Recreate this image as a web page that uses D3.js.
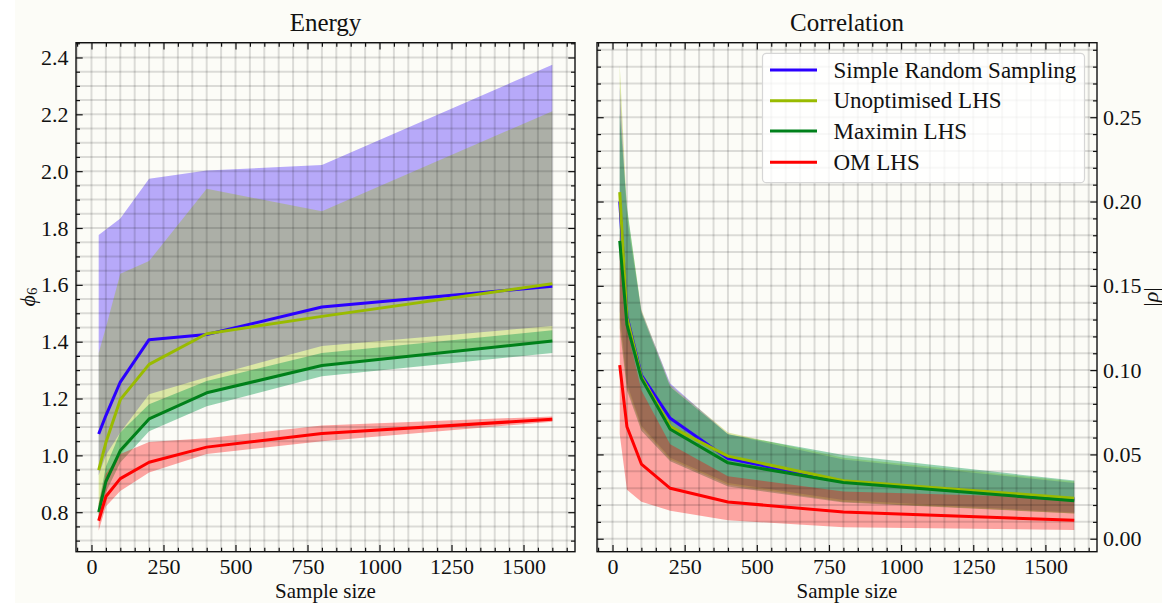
<!DOCTYPE html>
<html>
<head>
<meta charset="utf-8">
<script src="https://cdn.jsdelivr.net/npm/d3@7"></script>
<style>
  html, body { margin: 0; padding: 0; background: #fcfcf7; }
  svg { display: block; }
  text { font-family: "Liberation Serif", "DejaVu Serif", serif; fill: #111; }
</style>
</head>
<body>
<script>
// Sample sizes shared by every method
const sampleSizes = [25, 50, 100, 200, 400, 800, 1600];

// Energy (phi_6): mean line and band edges per method
const energySRS      = [1.075, 1.14, 1.258, 1.407, 1.425, 1.522, 1.595];
const energySRSLo    = [0.93, 1.0, 1.08, 1.215, 1.275, 1.385, 1.455];
const energySRSHi    = [1.775, 1.795, 1.833, 1.973, 2.002, 2.022, 2.374];
const energyULHS     = [0.948, 1.045, 1.196, 1.32, 1.428, 1.489, 1.604];
const energyULHSLo   = [0.80, 0.90, 1.0, 1.13, 1.22, 1.32, 1.40];
const energyULHSHi   = [1.36, 1.45, 1.639, 1.684, 1.938, 1.859, 2.211];
const energyMLHS     = [0.80, 0.908, 1.017, 1.128, 1.22, 1.316, 1.402];
const energyMLHSLo   = [0.77, 0.87, 0.975, 1.085, 1.173, 1.278, 1.36];
const energyMLHSHi   = [0.83, 0.96, 1.08, 1.18, 1.262, 1.36, 1.44];
const energyOM       = [0.77, 0.855, 0.918, 0.976, 1.029, 1.077, 1.127];
const energyOMLo     = [0.735, 0.82, 0.875, 0.94, 1.005, 1.05, 1.118];
const energyOMHi     = [0.83, 0.935, 1.005, 1.047, 1.06, 1.105, 1.137];

// Correlation |rho|: mean line and band edges per method
const corrSRS        = [0.200, 0.132, 0.097, 0.0714, 0.0475, 0.034, 0.0235];
const corrSRSLo      = [0.135, 0.092, 0.067, 0.048, 0.033, 0.023, 0.0155];
const corrSRSHi      = [0.268, 0.190, 0.135, 0.092, 0.062, 0.047, 0.033];
const corrULHS       = [0.2056, 0.131, 0.096, 0.0665, 0.049, 0.0344, 0.024];
const corrULHSLo     = [0.130, 0.090, 0.066, 0.047, 0.032, 0.022, 0.015];
const corrULHSHi     = [0.281, 0.195, 0.136, 0.091, 0.063, 0.048, 0.034];
const corrMLHS       = [0.1766, 0.127, 0.0951, 0.0649, 0.045, 0.0334, 0.0225];
const corrMLHSLo     = [0.125, 0.088, 0.064, 0.046, 0.031, 0.0215, 0.015];
const corrMLHSHi     = [0.252, 0.197, 0.134, 0.090, 0.062, 0.0496, 0.0345];
const corrOM         = [0.103, 0.0664, 0.0443, 0.0299, 0.0218, 0.0158, 0.0109];
const corrOMLo       = [0.062, 0.029, 0.022, 0.0166, 0.011, 0.0068, 0.0052];
const corrOMHi       = [0.180, 0.125, 0.088, 0.056, 0.037, 0.028, 0.024];

// Legend labels and tick labels
const methodNames  = ["Simple Random Sampling", "Unoptimised LHS", "Maximin LHS", "OM LHS"];
const sizeTicks    = [0, 250, 500, 750, 1000, 1250, 1500];
const energyTicks  = [0.8, 1.0, 1.2, 1.4, 1.6, 1.8, 2.0, 2.2, 2.4];
const corrTicks    = [0.00, 0.05, 0.10, 0.15, 0.20, 0.25];

// Styling per method
const lineColors = ["#2b00ff", "#99bb00", "#00801a", "#ff0000"];
const bandColors = ["#2b00ff", "#99bb00", "#0c9a50", "#ff0000"];
const bandAlpha  = [0.33, 0.33, 0.42, 0.35];

const W = 1162, H = 603;
const svg = d3.select("body").append("svg").attr("width", W).attr("height", H);
svg.append("rect").attr("width", W).attr("height", H).attr("fill", "#fcfcf7");
svg.append("rect").attr("width", 15).attr("height", H).attr("fill", "#ffffff");

const axTop = 42.7, axBottom = 551.7;
const xDomain = [-53.75, 1678.75];

function drawPanel(o) {
  const x = d3.scaleLinear().domain(xDomain).range([o.left, o.right]);
  const y = d3.scaleLinear().domain(o.yDomain).range([axBottom, axTop]);
  const g = svg.append("g");

  g.append("rect").attr("x", o.left).attr("y", axTop)
    .attr("width", o.right - o.left).attr("height", axBottom - axTop)
    .attr("fill", "#fcfcf7");

  const clipId = "clip" + o.id;
  svg.append("clipPath").attr("id", clipId).append("rect")
    .attr("x", o.left).attr("y", axTop).attr("width", o.right - o.left).attr("height", axBottom - axTop);
  const plot = g.append("g").attr("clip-path", `url(#${clipId})`);

  // bands
  o.series.forEach((s, i) => {
    const pts = sampleSizes.map((n, k) => ({ n, lo: s.lo[k], hi: s.hi[k] }));
    plot.append("path").datum(pts)
      .attr("d", d3.area().x(d => x(d.n)).y0(d => y(d.lo)).y1(d => y(d.hi)))
      .attr("fill", bandColors[i]).attr("fill-opacity", bandAlpha[i]);
  });

  // grid at every minor tick
  const xMinor = d3.range(-50, 1700, 50);
  const yMinor = d3.range(o.minorStart, o.yDomain[1], o.minorStep).map(v => +v.toFixed(4));
  const grid = plot.append("g").attr("stroke", "#000").attr("stroke-opacity", 0.13).attr("stroke-width", 2);
  xMinor.forEach(v => grid.append("line").attr("x1", x(v)).attr("x2", x(v)).attr("y1", axTop).attr("y2", axBottom));
  yMinor.forEach(v => grid.append("line").attr("x1", o.left).attr("x2", o.right).attr("y1", y(v)).attr("y2", y(v)));

  // mean lines
  o.series.forEach((s, i) => {
    plot.append("path").datum(sampleSizes.map((n, k) => [n, s.mean[k]]))
      .attr("d", d3.line().x(d => x(d[0])).y(d => y(d[1])))
      .attr("fill", "none").attr("stroke", lineColors[i]).attr("stroke-width", 3)
      .attr("stroke-linejoin", "round");
  });

  // axes: inward ticks on all four sides
  const majorLen = 6.7, minorLen = 4;
  function styleAxis(sel) {
    sel.select(".domain").remove();
    sel.selectAll("line").attr("stroke", "#111").attr("stroke-width", 1.2);
    sel.selectAll("text").attr("font-family", "Liberation Serif, serif").attr("font-size", 22).attr("fill", "#111");
    sel.attr("font-family", null);
  }
  const fmtX = d => String(d);
  const xMinorOnly = xMinor.filter(v => v > xDomain[0] && !sizeTicks.includes(v));
  const yMinorOnly = yMinor.filter(v => v > o.yDomain[0] && !o.ticks.some(t => Math.abs(t - v) < 1e-6));

  // bottom
  g.append("g").attr("transform", `translate(0,${axBottom})`)
    .call(d3.axisBottom(x).tickValues(sizeTicks).tickSize(-majorLen).tickPadding(6.5).tickFormat(fmtX)).call(styleAxis);
  g.append("g").attr("transform", `translate(0,${axBottom})`)
    .call(d3.axisBottom(x).tickValues(xMinorOnly).tickSize(-minorLen).tickFormat("")).call(styleAxis);
  // top
  g.append("g").attr("transform", `translate(0,${axTop})`)
    .call(d3.axisTop(x).tickValues(sizeTicks).tickSize(-majorLen).tickFormat("")).call(styleAxis);
  g.append("g").attr("transform", `translate(0,${axTop})`)
    .call(d3.axisTop(x).tickValues(xMinorOnly).tickSize(-minorLen).tickFormat("")).call(styleAxis);
  // left
  g.append("g").attr("transform", `translate(${o.left},0)`)
    .call(d3.axisLeft(y).tickValues(o.ticks).tickSize(-majorLen).tickPadding(7.5)
      .tickFormat(o.labelsLeft ? o.fmt : "")).call(styleAxis);
  g.append("g").attr("transform", `translate(${o.left},0)`)
    .call(d3.axisLeft(y).tickValues(yMinorOnly).tickSize(-minorLen).tickFormat("")).call(styleAxis);
  // right
  g.append("g").attr("transform", `translate(${o.right},0)`)
    .call(d3.axisRight(y).tickValues(o.ticks).tickSize(-majorLen).tickPadding(6)
      .tickFormat(o.labelsLeft ? "" : o.fmt)).call(styleAxis);
  g.append("g").attr("transform", `translate(${o.right},0)`)
    .call(d3.axisRight(y).tickValues(yMinorOnly).tickSize(-minorLen).tickFormat("")).call(styleAxis);

  // frame
  g.append("rect").attr("x", o.left).attr("y", axTop)
    .attr("width", o.right - o.left).attr("height", axBottom - axTop)
    .attr("fill", "none").attr("stroke", "#111").attr("stroke-width", 1.4);

  // title and x label
  const cx = (o.left + o.right) / 2;
  g.append("text").attr("x", cx).attr("y", 31).attr("text-anchor", "middle")
    .attr("font-size", 25).text(o.title);
  g.append("text").attr("x", cx).attr("y", 598).attr("text-anchor", "middle")
    .attr("font-size", 21).text("Sample size");

  return { x, y, g };
}

const energySeries = [
  { mean: energySRS,  lo: energySRSLo,  hi: energySRSHi },
  { mean: energyULHS, lo: energyULHSLo, hi: energyULHSHi },
  { mean: energyMLHS, lo: energyMLHSLo, hi: energyMLHSHi },
  { mean: energyOM,   lo: energyOMLo,   hi: energyOMHi }
];
const corrSeries = [
  { mean: corrSRS,  lo: corrSRSLo,  hi: corrSRSHi },
  { mean: corrULHS, lo: corrULHSLo, hi: corrULHSHi },
  { mean: corrMLHS, lo: corrMLHSLo, hi: corrMLHSHi },
  { mean: corrOM,   lo: corrOMLo,   hi: corrOMHi }
];

drawPanel({
  id: "E", left: 76, right: 575, yDomain: [0.661, 2.452],
  ticks: energyTicks, minorStart: 0.7, minorStep: 0.05,
  fmt: d => d.toFixed(1), labelsLeft: true, title: "Energy", series: energySeries
});
drawPanel({
  id: "C", left: 597, right: 1097, yDomain: [-0.0077, 0.2942],
  ticks: corrTicks, minorStart: 0.0, minorStep: 0.01,
  fmt: d => d.toFixed(2), labelsLeft: false, title: "Correlation", series: corrSeries
});

// y-axis labels
const yl = svg.append("text").attr("transform", "translate(27,297) rotate(-90)")
  .attr("text-anchor", "middle").attr("dominant-baseline", "central").attr("font-size", 22);
yl.append("tspan").attr("font-style", "italic").text("ϕ");
yl.append("tspan").attr("font-size", 15).attr("dy", 5).text("6");

const yr = svg.append("text").attr("transform", "translate(1150,297) rotate(-90)")
  .attr("text-anchor", "middle").attr("dominant-baseline", "central").attr("font-size", 22);
yr.append("tspan").text("|");
yr.append("tspan").attr("font-style", "italic").text("ρ");
yr.append("tspan").text("|");

// legend
const lg = svg.append("g");
lg.append("rect").attr("x", 762.5).attr("y", 53.3).attr("width", 322).attr("height", 129.4)
  .attr("rx", 4).attr("fill", "#ffffff").attr("fill-opacity", 0.8)
  .attr("stroke", "#d6d6d6").attr("stroke-width", 1.2);
const rowY = [70, 100.7, 131, 162.3];
methodNames.forEach((name, i) => {
  lg.append("line").attr("x1", 770).attr("x2", 817).attr("y1", rowY[i]).attr("y2", rowY[i])
    .attr("stroke", lineColors[i]).attr("stroke-width", 3);
  lg.append("text").attr("x", 833.5).attr("y", rowY[i]).attr("dominant-baseline", "central")
    .attr("font-size", 23).text(name);
});
</script>
</body>
</html>
